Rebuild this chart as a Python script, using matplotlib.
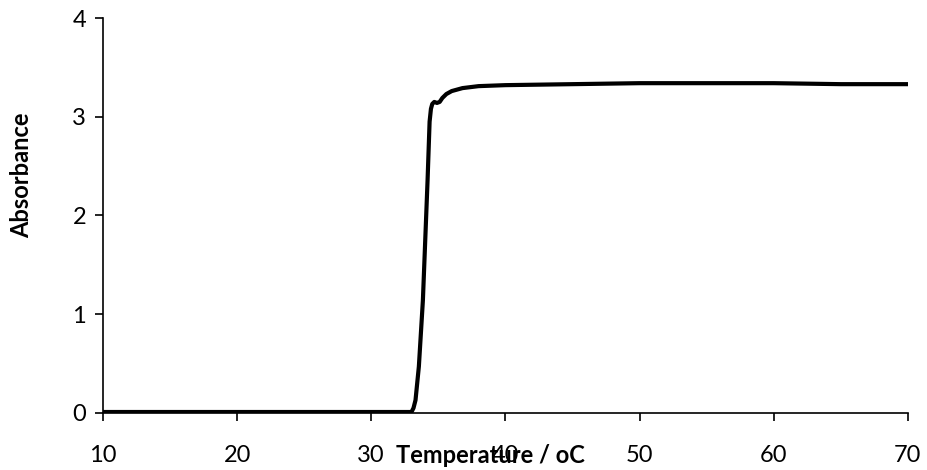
import matplotlib
matplotlib.use("Agg")
import matplotlib.pyplot as plt

# Absorbance vs temperature
temperature = [10, 20, 30, 32.5, 33.0, 33.15, 33.3, 33.55, 33.85, 34.2, 34.35,
               34.45, 34.55, 34.7, 34.9, 35.1, 35.3, 35.6, 36.0, 36.8, 38.0,
               40.0, 45.0, 50.0, 55.0, 60.0, 65.0, 70.0]
absorbance = [0.01, 0.01, 0.01, 0.01, 0.01, 0.05, 0.13, 0.47, 1.14, 2.36, 2.95,
              3.08, 3.13, 3.15, 3.14, 3.15, 3.19, 3.23, 3.26, 3.29, 3.31,
              3.32, 3.33, 3.34, 3.34, 3.34, 3.33, 3.33]

x_ticks = [10, 20, 30, 40, 50, 60, 70]
y_ticks = [0, 1, 2, 3, 4]

plt.rcParams["font.family"] = ["Lato", "DejaVu Sans"]

fig = plt.figure(figsize=(9.27, 4.70), dpi=100)
ax = fig.add_axes([0.111, 0.1213, 0.8684, 0.8404])

ax.plot(temperature, absorbance, color="black", linewidth=3.0,
        solid_joinstyle="round", zorder=3)

ax.set_xlim(10, 70)
ax.set_ylim(0, 4)
ax.set_xticks(x_ticks)
ax.set_yticks(y_ticks)

for side in ["top", "right"]:
    ax.spines[side].set_visible(False)
for side in ["left", "bottom"]:
    ax.spines[side].set_linewidth(1.2)

ax.tick_params(axis="both", direction="out", length=6, width=1.2,
               labelsize=17, colors="black")
ax.tick_params(axis="x", pad=17)
ax.tick_params(axis="y", pad=6)

ax.set_xlabel("Temperature / oC", fontsize=17, fontweight="bold")
ax.set_ylabel("Absorbance", fontsize=17, fontweight="bold")
ax.xaxis.set_label_coords(0.482, -0.108)
ax.xaxis.label.set_va("center")
ax.yaxis.set_label_coords(-0.1006, 0.603)
ax.yaxis.label.set_va("center")

fig.savefig("out.png", dpi=100)
